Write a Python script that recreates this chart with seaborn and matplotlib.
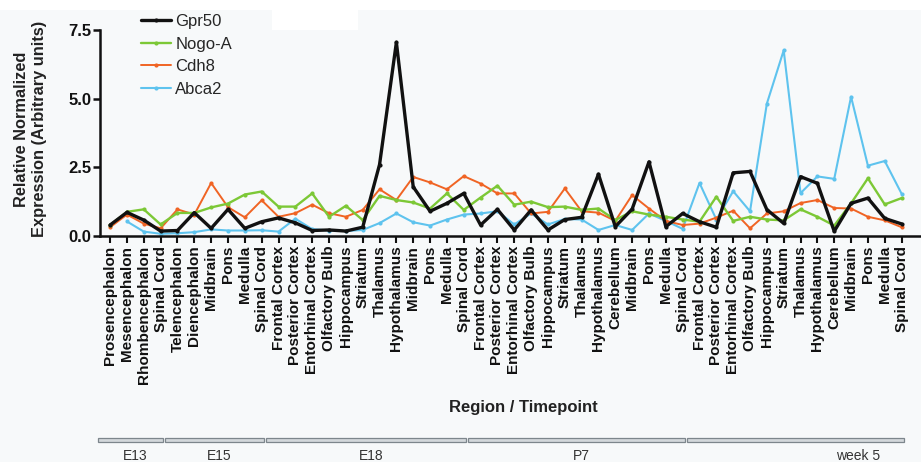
## relative expression by region / timepoint
import numpy as np
import pandas as pd
import matplotlib.pyplot as plt
import matplotlib.transforms as mtransforms
from matplotlib.patches import Rectangle
import seaborn as sns

# regions in plotting order, grouped by timepoint
e13 = ['Prosencephalon', 'Mesencephalon', 'Rhombencephalon', 'Spinal Cord']
e15 = ['Telencephalon', 'Diencephalon', 'Midbrain', 'Pons', 'Medulla', 'Spinal Cord']
e18 = ['Frontal Cortex', 'Posterior Cortex', 'Entorhinal Cortex', 'Olfactory Bulb',
       'Hippocampus', 'Striatum', 'Thalamus', 'Hypothalamus', 'Midbrain', 'Pons',
       'Medulla', 'Spinal Cord']
p7 = ['Frontal Cortex', 'Posterior Cortex', 'Entorhinal Cortex', 'Olfactory Bulb',
      'Hippocampus', 'Striatum', 'Thalamus', 'Hypothalamus', 'Cerebellum', 'Midbrain',
      'Pons', 'Medulla', 'Spinal Cord']
week5 = ['Frontal Cortex', 'Posterior Cortex', 'Entorhinal Cortex', 'Olfactory Bulb',
         'Hippocampus', 'Striatum', 'Thalamus', 'Hypothalamus', 'Cerebellum', 'Midbrain',
         'Pons', 'Medulla', 'Spinal Cord']
timepoints = ['E13', 'E15', 'E18', 'P7', 'week 5']
groups = [e13, e15, e18, p7, week5]
regions = e13 + e15 + e18 + p7 + week5

gpr50 = [0.40, 0.86, 0.58, 0.18, 0.20, 0.85, 0.28, 0.97, 0.28, 0.52, 0.66, 0.48,
         0.20, 0.22, 0.18, 0.32, 2.60, 7.05, 1.79, 0.90, 1.19, 1.55, 0.40, 0.97,
         0.22, 0.95, 0.22, 0.60, 0.68, 2.25, 0.34, 0.98, 2.70, 0.34, 0.82, 0.52,
         0.32, 2.30, 2.35, 0.96, 0.46, 2.16, 1.92, 0.17, 1.19, 1.38, 0.64, 0.44]
nogo_a = [0.40, 0.88, 0.97, 0.42, 0.84, 0.84, 1.04, 1.18, 1.51, 1.62, 1.07, 1.07,
          1.55, 0.70, 1.10, 0.58, 1.46, 1.31, 1.22, 1.00, 1.55, 0.95, 1.40, 1.83,
          1.14, 1.25, 1.05, 1.07, 0.95, 1.00, 0.58, 0.90, 0.78, 0.70, 0.60, 0.52,
          1.43, 0.55, 0.70, 0.60, 0.57, 0.97, 0.70, 0.38, 1.19, 2.10, 1.15, 1.38]
cdh8 = [0.32, 0.78, 0.45, 0.28, 0.97, 0.78, 1.93, 1.05, 0.68, 1.30, 0.70, 0.83,
        1.14, 0.83, 0.70, 0.95, 1.70, 1.31, 2.15, 1.95, 1.70, 2.18, 1.91, 1.55,
        1.55, 0.82, 0.88, 1.73, 0.90, 0.85, 0.55, 1.49, 1.00, 0.55, 0.40, 0.45,
        0.67, 0.92, 0.28, 0.82, 0.90, 1.20, 1.31, 1.02, 1.00, 0.70, 0.57, 0.32]
abca2 = [np.nan, 0.53, 0.16, 0.08, 0.10, 0.14, 0.24, 0.20, 0.20, 0.21, 0.16, 0.63,
         0.25, 0.20, 0.18, 0.22, 0.47, 0.82, 0.50, 0.38, 0.60, 0.78, 0.82, 0.90,
         0.42, 0.82, 0.42, 0.62, 0.60, 0.22, 0.40, 0.22, 0.82, 0.55, 0.26, 1.93,
         0.60, 1.63, 0.90, 4.82, 6.76, 1.56, 2.17, 2.08, 5.07, 2.56, 2.73, 1.54]

genes = ['Gpr50', 'Nogo-A', 'Cdh8', 'Abca2']
colors = {'Gpr50': '#111111', 'Nogo-A': '#7cc836', 'Cdh8': '#f06424', 'Abca2': '#5ec3ee'}
widths = {'Gpr50': 2.4, 'Nogo-A': 1.7, 'Cdh8': 1.4, 'Abca2': 1.5}

df = pd.DataFrame({'pos': np.arange(len(regions)), 'Gpr50': gpr50, 'Nogo-A': nogo_a,
                   'Cdh8': cdh8, 'Abca2': abca2})

sns.set_style('ticks')
plt.rcParams['font.family'] = ['Liberation Sans', 'DejaVu Sans']
bg = '#f7f9fa'

fig = plt.figure(figsize=(9.21, 4.62), dpi=100, facecolor=bg)
ax = fig.add_axes([100 / 921, 1 - 236 / 462, 1 - 100 / 921 + 0.01, 206 / 462])
ax.set_facecolor(bg)

# scan artefacts: white strip on top and white patch next to the legend
fig.add_artist(Rectangle((0, 1 - 10 / 462), 1, 10 / 462, transform=fig.transFigure,
                         facecolor='white', edgecolor='none', zorder=0))
fig.add_artist(Rectangle((272 / 921, 1 - 55 / 462), 86 / 921, 45 / 462,
                         transform=fig.transFigure, facecolor='white',
                         edgecolor='none', zorder=0))

# draw Abca2 first so black Gpr50 sits on top
for g in genes[::-1]:
    sns.lineplot(data=df, x='pos', y=g, ax=ax, color=colors[g], lw=widths[g],
                 marker='o', markersize=3, markeredgewidth=0, label=g)

ax.set_xlim(-0.6, 48.7)
ax.set_ylim(0, 7.5)
ax.set_yticks([0, 2.5, 5.0, 7.5])
ax.set_yticklabels(['0.0', '2.5', '5.0', '7.5'], fontweight='bold', fontsize=12)
ax.set_xticks(df['pos'])
ax.set_xticklabels(regions, rotation=90, fontweight='bold', fontsize=11)
ax.tick_params(axis='y', length=5, width=1.8, pad=1, colors='#111111')
ax.tick_params(axis='x', length=5, width=1.5, pad=2, colors='#111111')
for s in ['top', 'right']:
    ax.spines[s].set_visible(False)
for s in ['left', 'bottom']:
    ax.spines[s].set_linewidth(1.8)
    ax.spines[s].set_color('#111111')

ax.set_xlabel('Region / Timepoint', fontweight='bold', fontsize=12, color='#222222')
ax.xaxis.set_label_coords(0.51, -0.796)
ax.set_ylabel('Relative Normalized\nExpression (Arbitrary units)', fontweight='bold',
              fontsize=11.8, color='#222222', linespacing=1.2)
ax.yaxis.set_label_coords(-0.064, 0.52)

# legend in original order
h, l = ax.get_legend_handles_labels()
order = [l.index(g) for g in genes]
ax.legend([h[i] for i in order], [l[i] for i in order], frameon=False, fontsize=12,
          loc='upper left', bbox_to_anchor=(141 / 921, 1 - 14 / 462),
          bbox_transform=fig.transFigure, borderpad=0, borderaxespad=0,
          labelspacing=0.45, handlelength=1.8, handletextpad=0.25)

# timepoint bars under the region labels
trans = mtransforms.blended_transform_factory(ax.transData, ax.transAxes)
start = 0
for name, grp in zip(timepoints, groups):
    first, last = start, start + len(grp) - 1
    ax.add_patch(Rectangle((first - 0.72, -1.0), (last - first) + 0.84, 0.02,
                           transform=trans, clip_on=False, facecolor='#d3d8db',
                           edgecolor='#7d868c', lw=0.9))
    xt = (first + last) / 2 if name != 'week 5' else last - 2.6
    ax.text(xt, -1.035, name, transform=trans, ha='center', va='top',
            fontsize=10, color='#333333')
    start = last + 1

fig.savefig('out.png', dpi=100, facecolor=bg)
